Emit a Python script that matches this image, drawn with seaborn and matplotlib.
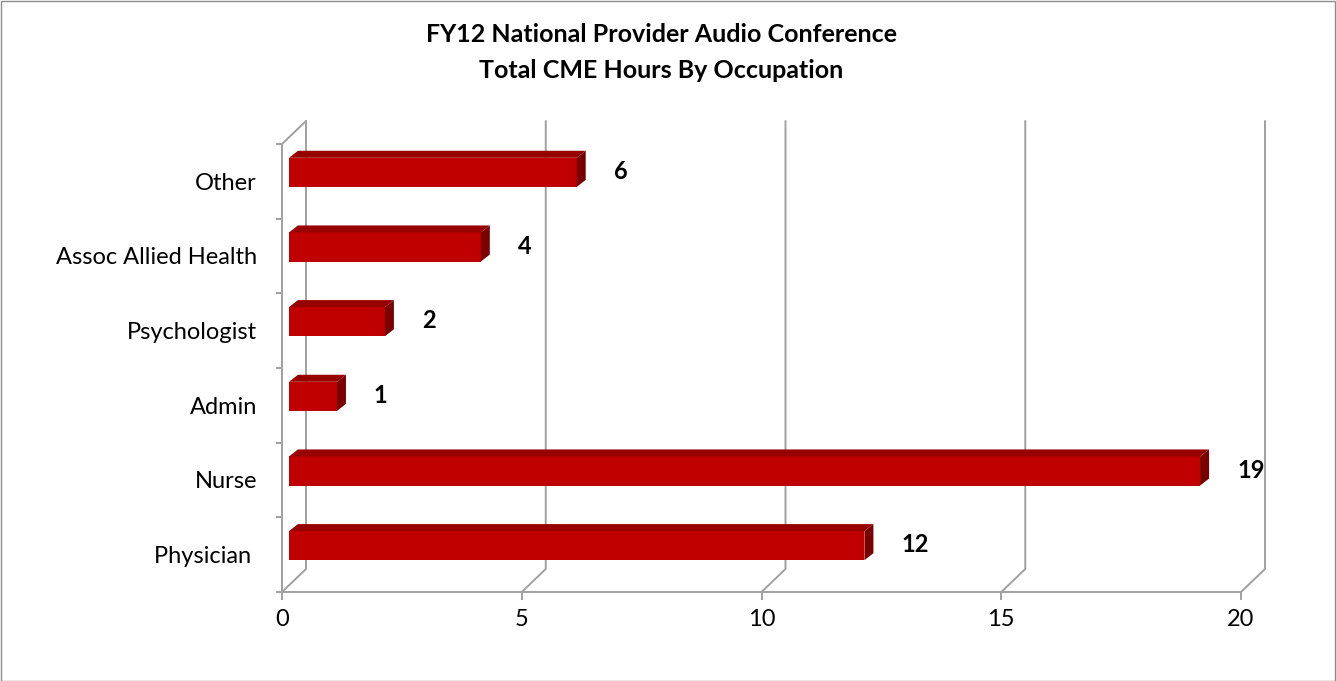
import numpy as np
import pandas as pd
import matplotlib
matplotlib.use('Agg')
import matplotlib.pyplot as plt
import matplotlib.transforms as mtransforms
from matplotlib.patches import Polygon, Rectangle
from matplotlib.ticker import FixedLocator
import seaborn as sns

# data (top to bottom)
occupations = ['Other', 'Assoc Allied Health', 'Psychologist', 'Admin', 'Nurse', 'Physician ']
hours = [6, 4, 2, 1, 19, 12]
x_ticks = [0, 5, 10, 15, 20]
title_1 = 'FY12 National Provider Audio Conference'
title_2 = 'Total CME Hours By Occupation'

sns.set_style('white')
plt.rcParams['font.family'] = ['Lato', 'DejaVu Sans']
plt.rcParams['text.color'] = 'black'
plt.rcParams['xtick.labelcolor'] = 'black'
plt.rcParams['ytick.labelcolor'] = 'black'

W, H = 1336, 681
DPI = 100
grid_col = '#A0A0A0'
front_col = '#C00000'
top_col = '#960000'
side_col = '#7A0000'
fs = 17

fig = plt.figure(figsize=(W / DPI, H / DPI), dpi=DPI)
fig.patch.set_facecolor('white')
ax = fig.add_axes([282 / W, 1 - 592 / H, 959 / W, 448 / H])

df = pd.DataFrame({'occupation': occupations, 'hours': hours})
sns.barplot(data=df, x='hours', y='occupation', orient='h', color=front_col,
            saturation=1, width=0.39, ax=ax, linewidth=0)

ax.set_xlim(0, 20)
ax.set_ylim(len(occupations) - 0.5, -0.5)
ax.set_xlabel('')
ax.set_ylabel('')
ax.set_facecolor('none')

# spines / ticks
for s in ['top', 'right']:
    ax.spines[s].set_visible(False)
for s in ['left', 'bottom']:
    ax.spines[s].set_color(grid_col)
    ax.spines[s].set_linewidth(1.4)
ax.set_xticks(x_ticks)
ax.tick_params(axis='x', length=6, width=1.4, color=grid_col, pad=6, labelsize=fs,
               labelcolor='black', bottom=True)
ax.yaxis.set_minor_locator(FixedLocator(np.arange(-0.5, len(occupations), 1.0)))
ax.tick_params(axis='y', which='major', length=0, pad=18, labelsize=fs, labelcolor='black', left=True)
ax.tick_params(axis='y', which='minor', length=4.5, width=1.4, color=grid_col, left=True)

# 3d depth offsets in pixels
bar_dx, bar_dy = 7, 9
d_bar = (9, 7)
d_wall = (24, 23)
ident = mtransforms.IdentityTransform()

# back wall and floor lines
fig.canvas.draw()
y_bot = ax.transData.transform((0, len(occupations) - 0.5))[1]
y_top = ax.transData.transform((0, -0.5))[1]
for t in x_ticks:
    xp = ax.transData.transform((t, 0))[0]
    ax.plot([xp, xp + d_wall[0], xp + d_wall[0]],
            [y_bot, y_bot + d_wall[1], y_top + d_wall[1]],
            color=grid_col, lw=1.4, transform=ident, clip_on=False, zorder=0)
x0p = ax.transData.transform((0, 0))[0]
ax.plot([x0p, x0p + d_wall[0]], [y_top, y_top + d_wall[1]],
        color=grid_col, lw=1.4, transform=ident, clip_on=False, zorder=0)

# shift bars and add top / side faces
shift = mtransforms.ScaledTranslation(bar_dx / DPI, bar_dy / DPI, fig.dpi_scale_trans)
for p in ax.patches:
    p.set_transform(ax.transData + shift)
    p.set_zorder(3)
    (L, B) = ax.transData.transform((p.get_x(), p.get_y() + p.get_height()))
    (R, T) = ax.transData.transform((p.get_x() + p.get_width(), p.get_y()))
    L, R = L + bar_dx, R + bar_dx
    B, T = B + bar_dy, T + bar_dy
    top = Polygon([(L, T), (R, T), (R + d_bar[0], T + d_bar[1]), (L + d_bar[0], T + d_bar[1])],
                  closed=True, facecolor=top_col, edgecolor='none', transform=ident, clip_on=False, zorder=3)
    side = Polygon([(R, B), (R, T), (R + d_bar[0], T + d_bar[1]), (R + d_bar[0], B + d_bar[1])],
                   closed=True, facecolor=side_col, edgecolor='none', transform=ident, clip_on=False, zorder=3)
    ax.add_patch(top)
    ax.add_patch(side)

# value labels
for i, v in enumerate(hours):
    ax.annotate(str(v), xy=(v, i), xytext=(bar_dx + d_bar[0] + 28, bar_dy + 1),
                textcoords='offset pixels', ha='left', va='center',
                fontsize=fs, fontweight='bold', color='black', annotation_clip=False)

# title
fig.text(661 / W, 1 - 35 / H, title_1, ha='center', va='center', fontsize=18, fontweight='bold')
fig.text(661 / W, 1 - 70 / H, title_2, ha='center', va='center', fontsize=18, fontweight='bold')

# outer border
fig.patches.append(Rectangle((0.5 / W, 0.5 / H), 1 - 1.5 / W, 1 - 1.5 / H, transform=fig.transFigure,
                             fill=False, edgecolor='#8C8C8C', lw=1))

fig.savefig('out.png', dpi=DPI)
